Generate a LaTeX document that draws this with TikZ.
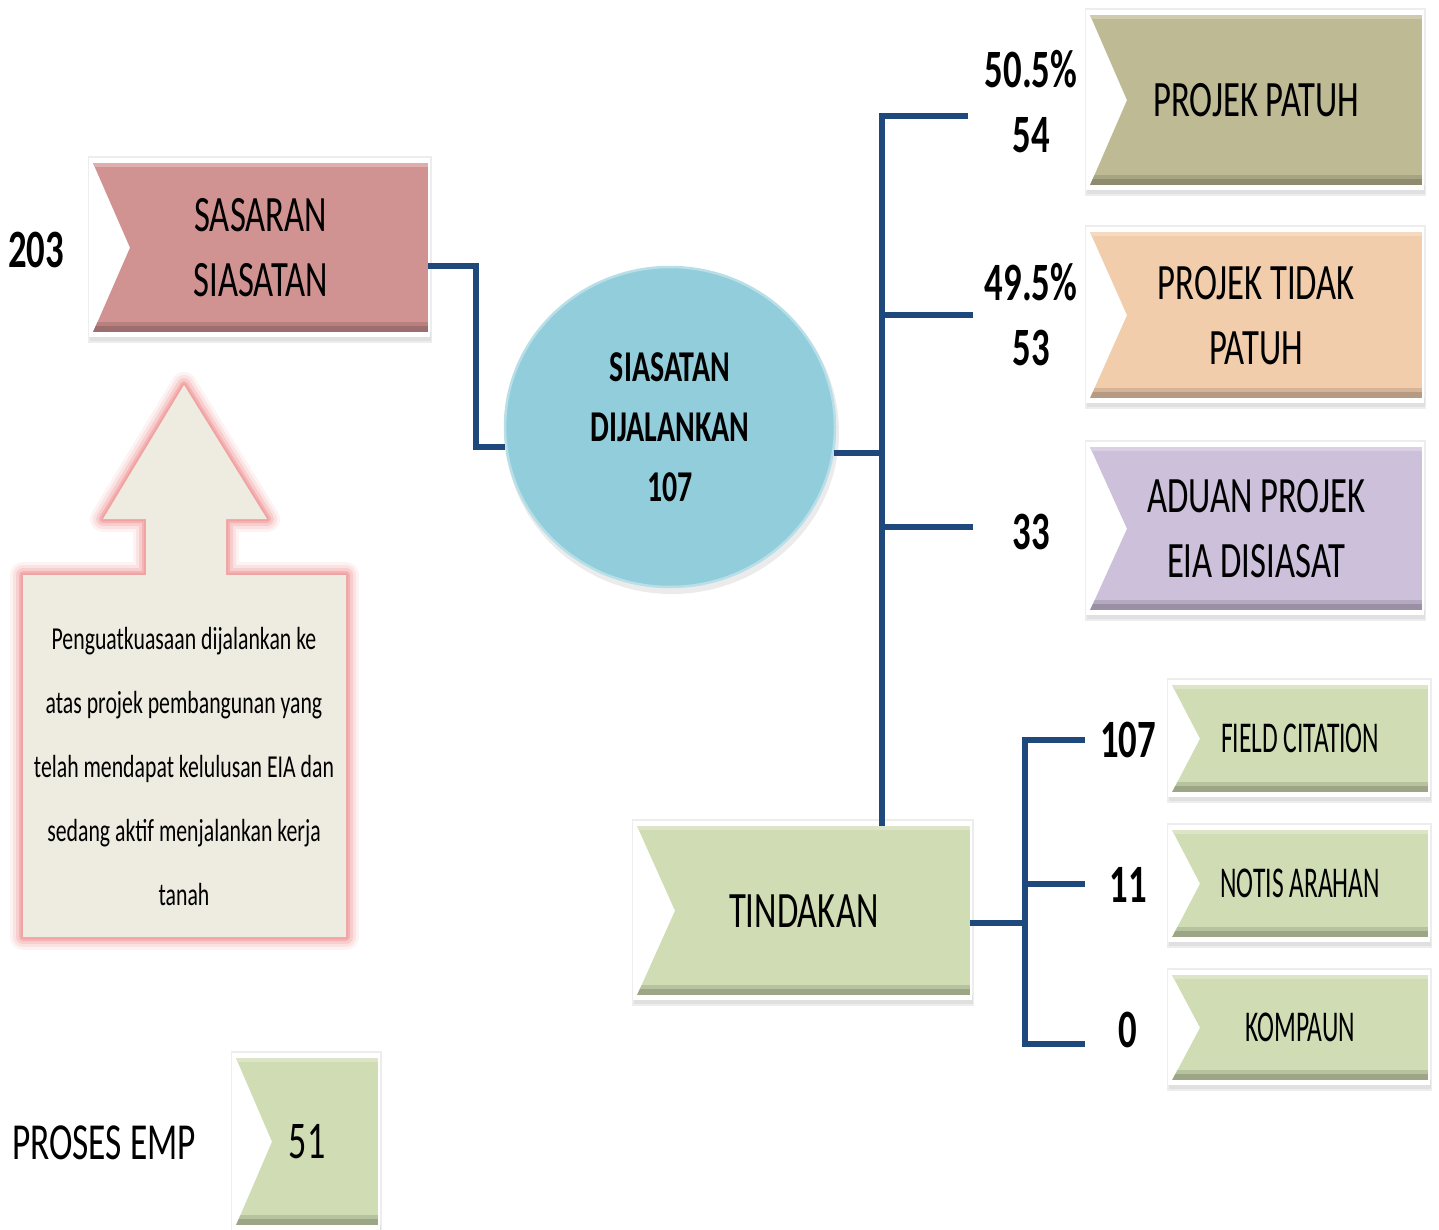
\documentclass[tikz,border=0pt]{standalone}
\usepackage{fontspec}
\setmainfont{Carlito}[FakeStretch=0.68]
\newfontfamily\narrowfont{Carlito}[FakeStretch=0.58]
\usetikzlibrary{shapes.geometric,backgrounds,calc}
\definecolor{sascol}{HTML}{D19391}
\definecolor{patuhcol}{HTML}{BEBA93}
\definecolor{tidakcol}{HTML}{F2CDAC}
\definecolor{aduancol}{HTML}{CCC0DA}
\definecolor{greencol}{HTML}{D0DDB4}
\definecolor{notecol}{HTML}{EEECE1}
\definecolor{glowcol}{HTML}{F09A9A}
\definecolor{conncol}{HTML}{1F497D}
\definecolor{circcol}{HTML}{92CDDC}
\newcommand\chevron[3]{%
  \begin{scope}[on background layer]
  \fill[black!7] ([shift={(-5,-7)}]#1.north west) rectangle ([shift={(4,11)}]#1.south east);
  \fill[black!12] ([shift={(-3,0)}]#1.south west) rectangle ([shift={(3,9)}]#1.south east);
  \fill[white] ([shift={(-4,-5)}]#1.north west) rectangle ([shift={(2,5)}]#1.south east);
  \begin{scope}
  \clip (#1.north west) -- (#1.north east) -- (#1.south east) -- (#1.south west) -- ([xshift=#2]#1.west) -- cycle;
  \fill[#3] (#1.north west) rectangle (#1.south east);
  \fill[#3!88!black] ([yshift=10pt]#1.south west) rectangle (#1.south east);
  \fill[#3!75!black] ([yshift=6pt]#1.south west) rectangle (#1.south east);
  \fill[#3!75!white] (#1.north west) rectangle ([yshift=-4pt]#1.north east);
  \end{scope}
  \end{scope}}
\begin{document}
\begin{tikzpicture}[x=1pt,y=-1pt,
  cbox/.style={inner sep=0pt, anchor=north west, align=center, font=\fontsize{51}{65}\selectfont},
  sbox/.style={inner sep=0pt, anchor=north west, align=center, font=\narrowfont\fontsize{44}{55}\selectfont},
  numb/.style={inner sep=0pt, align=center, font=\bfseries\fontsize{54}{65}\selectfont},
  conn/.style={draw=conncol, line width=6pt, line join=miter}]
\useasboundingbox (0,0) rectangle (1439,1230);

% boxes
\node[cbox, minimum width=335, minimum height=169] (sas) at (93,163) {SASARAN\\SIASATAN};
\chevron{sas}{37}{sascol}
\node[cbox, minimum width=332, minimum height=170] (pp) at (1090,15) {PROJEK PATUH};
\chevron{pp}{37}{patuhcol}
\node[cbox, minimum width=332, minimum height=166] (ptp) at (1090,232) {PROJEK TIDAK\\PATUH};
\chevron{ptp}{37}{tidakcol}
\node[cbox, minimum width=332, minimum height=163] (aduan) at (1090,447) {ADUAN PROJEK\\EIA DISIASAT};
\chevron{aduan}{37}{aduancol}
\node[cbox, minimum width=333, minimum height=169] (tind) at (637,826) {TINDAKAN};
\chevron{tind}{38}{greencol}
\node[sbox, minimum width=256, minimum height=107] (fc) at (1172,685) {FIELD CITATION};
\chevron{fc}{28}{greencol}
\node[sbox, minimum width=256, minimum height=107] (na) at (1172,830) {NOTIS ARAHAN};
\chevron{na}{28}{greencol}
\node[sbox, minimum width=256, minimum height=105] (kp) at (1172,975) {KOMPAUN};
\chevron{kp}{28}{greencol}
\node[cbox, minimum width=142, minimum height=167, font=\fontsize{53}{65}\selectfont] (b51) at (236,1058) {51};
\chevron{b51}{36}{greencol}

% ellipse
\begin{scope}[on background layer]
\fill[black!8] (672,432) ellipse [x radius=167, y radius=162];
\end{scope}
\node[ellipse, fill=circcol, draw=circcol!65!white, line width=2.5pt, minimum width=330, minimum height=320, inner sep=0pt, align=center,
  font=\bfseries\fontsize{44}{60}\selectfont] (circ) at (670,427) {SIASATAN\\DIJALANKAN\\107};

% labels
\node[numb] (n203) at (36,250) {203};
\node[numb] (l1) at (1031,102) {50.5\%\\54};
\node[numb] (l2) at (1031,315) {49.5\%\\53};
\node[numb] (l3) at (1031,532) {33};
\node[numb] (l4) at (1128,740) {107};
\node[numb] (l5) at (1128,885) {11};
\node[numb] (l6) at (1128,1030) {0};
\node[inner sep=0pt, font=\fontsize{52}{65}\selectfont] (proses) at (104,1143) {PROSES EMP};

% callout
\path[save path=\cpath] (23,575) -- (146,575) -- (146,519) -- (103,519) -- (184,385) -- (267,519) -- (226,519) -- (226,575) -- (346,575) -- (346,937) -- (23,937) -- cycle;
\foreach \w/\o in {26/0.12,20/0.18,14/0.3,8/0.5,4/0.7}
  \draw[glowcol, line width=\w pt, opacity=\o, line join=round, use path=\cpath];
\fill[notecol, use path=\cpath];
\node[inner sep=0pt, align=center, font=\fontsize{32}{64}\selectfont] (note) at (184,766)
  {Penguatkuasaan dijalankan ke\\atas projek pembangunan yang\\telah mendapat kelulusan EIA dan\\sedang aktif menjalankan kerja\\tanah};

% connectors
\coordinate (se) at ($(sas.east)+(0,18)$);
\draw[conn] (se) -- ++(48,0) |- (circ.187);
\coordinate (tx) at (882,0);
\coordinate (b1) at (968,116);
\coordinate (b2) at (973,315);
\coordinate (b3) at (973,527);
\draw[conn] (circ.-9) -- (circ.-9 -| tx);
\draw[conn] (b1) -- (b1 -| tx) -- (tind.north -| tx);
\draw[conn] (b2 -| tx) -- (b2);
\draw[conn] (b3 -| tx) -- (b3);
\coordinate (ty) at (1025,0);
\coordinate (c1) at (1085,740);
\coordinate (c2) at (1085,884);
\coordinate (c3) at (1085,1044);
\coordinate (te) at ($(tind.east)+(0,12)$);
\draw[conn] (te) -- (te -| ty);
\draw[conn] (c1) -- (c1 -| ty) -- (c3 -| ty) -- (c3);
\draw[conn] (c2 -| ty) -- (c2);
\end{tikzpicture}
\end{document}
